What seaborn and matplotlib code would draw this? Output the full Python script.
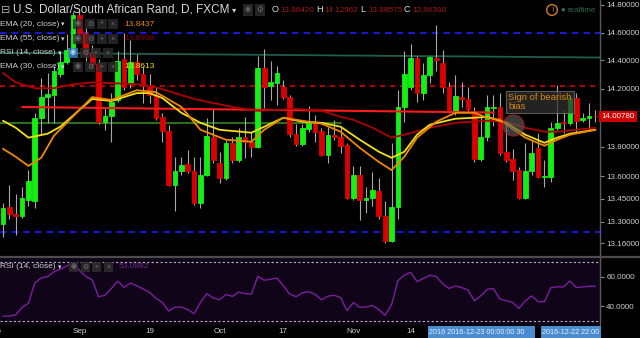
import matplotlib
matplotlib.use('Agg')
import matplotlib.pyplot as plt
import matplotlib.ticker as mticker
from matplotlib.patches import Rectangle
from matplotlib.lines import Line2D
import seaborn as sns
import pandas as pd
import numpy as np

# ---------------- data (USD/ZAR daily, 2016-08-16 .. 2016-12-23) ----------------
opens = [13.285,13.396,13.348,13.334,13.444,13.437,13.999,14.142,14.156,14.307,
 14.389,14.464,14.726,14.596,14.444,14.375,13.971,14.012,14.122,14.410,
 14.238,14.389,14.307,14.218,14.156,14.005,13.910,13.540,13.636,13.684,
 13.636,13.423,13.608,13.868,13.690,13.588,13.827,13.711,13.868,13.834,
 13.800,14.348,14.218,14.238,14.211,14.142,13.889,13.821,13.923,13.958,
 13.910,13.745,13.882,13.868,13.814,13.458,13.608,13.444,13.458,13.499,
 13.334,13.173,13.396,14.074,14.211,14.416,14.170,14.300,14.416,14.382,
 14.211,14.047,14.142,14.129,14.033,13.718,13.868,14.067,14.074,13.766,
 13.718,13.642,13.458,13.636,13.793,13.595,13.595,13.930,13.971,13.964,
 14.136,13.985,13.999,14.012]
highs = [13.423,13.540,13.485,13.526,13.642,14.033,14.273,14.314,14.362,14.464,
 14.589,14.749,14.763,14.631,14.510,14.410,14.067,14.170,14.464,14.596,
 14.546,14.444,14.362,14.307,14.211,14.033,13.951,13.732,13.732,13.779,
 13.732,13.732,13.999,14.067,13.766,13.848,13.868,13.930,14.005,13.903,
 14.430,14.485,14.396,14.362,14.259,14.156,13.958,13.958,14.081,14.019,
 13.930,13.937,13.985,13.937,13.827,13.670,13.670,13.526,13.629,13.588,
 13.437,13.827,14.190,14.464,14.516,14.430,14.382,14.430,14.653,14.478,
 14.245,14.300,14.245,14.211,14.074,14.019,14.156,14.156,14.170,13.971,
 13.786,13.663,13.827,13.848,13.896,13.711,13.971,14.225,14.053,14.149,
 14.170,14.033,14.101,14.053]
lows = [13.200,13.314,13.213,13.321,13.403,13.389,13.882,13.964,13.964,14.286,
 14.375,14.430,14.581,14.396,14.355,13.958,13.916,13.834,14.108,14.190,
 14.204,14.259,14.101,14.101,13.985,13.834,13.533,13.369,13.608,13.622,
 13.410,13.389,13.601,13.690,13.553,13.574,13.690,13.697,13.725,13.732,
 13.793,14.067,14.122,14.088,14.129,13.868,13.807,13.807,13.903,13.834,
 13.738,13.690,13.848,13.759,13.451,13.444,13.310,13.355,13.403,13.314,
 13.160,13.166,13.314,13.971,14.190,14.108,14.122,14.238,14.327,14.170,
 14.033,14.019,14.074,14.047,13.697,13.704,13.841,13.944,13.745,13.697,
 13.574,13.451,13.451,13.608,13.588,13.526,13.560,13.916,13.896,13.951,
 13.903,13.971,13.916,13.971]
closes = [13.389,13.348,13.334,13.458,13.567,13.999,14.142,14.163,14.327,14.389,
 14.478,14.726,14.596,14.444,14.375,13.971,14.012,14.108,14.396,14.211,
 14.389,14.307,14.218,14.156,13.999,13.910,13.540,13.636,13.677,13.636,
 13.423,13.608,13.875,13.711,13.588,13.827,13.711,13.868,13.834,13.800,
 14.348,14.211,14.245,14.314,14.142,13.889,13.821,13.930,13.964,13.903,
 13.745,13.882,13.868,13.807,13.458,13.608,13.444,13.458,13.512,13.334,
 13.173,13.396,14.074,14.307,14.416,14.170,14.300,14.423,14.403,14.211,
 14.047,14.149,14.129,14.060,13.718,13.868,14.074,14.074,13.759,13.711,
 13.636,13.458,13.636,13.759,13.595,13.601,13.930,13.964,13.964,14.136,
 13.978,13.999,14.012,14.008]

# EMA readings (candle index, value)
ema20_idx = [0,2,4,6,8,12,14,17,21,24,28,31,35,39,41,44,47,50,53,56,59,61,63,65,68,71,74,76,78,79,82,85,87,89,93]
ema20 = [13.786,13.732,13.670,13.725,13.875,14.053,14.142,14.122,14.190,14.177,14.074,13.916,13.848,13.834,13.916,13.999,13.978,13.958,13.903,13.793,13.697,13.642,13.732,13.862,13.971,14.033,14.033,13.999,13.985,13.951,13.862,13.807,13.848,13.882,13.916]
ema30_idx = [0,2,4,7,9,12,14,17,21,23,25,28,31,34,39,41,44,47,50,53,56,59,61,63,65,67,71,74,76,79,82,85,87,89,93]
ema30 = [13.978,13.930,13.862,13.889,13.937,14.053,14.129,14.115,14.170,14.170,14.136,14.033,13.964,13.916,13.896,13.937,13.999,13.971,13.964,13.937,13.848,13.766,13.725,13.766,13.882,13.951,13.992,13.999,14.005,13.964,13.882,13.827,13.862,13.889,13.916]
ema55_idx = [0,2,5,8,11,14,18,21,24,27,30,33,36,40,43,46,50,53,55,58,61,63,67,71,76,79,82,85,87,90,93]
ema55 = [14.311,14.245,14.204,14.204,14.232,14.245,14.238,14.232,14.211,14.170,14.129,14.101,14.074,14.047,14.053,14.060,14.047,14.005,13.985,13.930,13.862,13.882,13.930,13.964,13.978,13.971,13.930,13.903,13.903,13.916,13.930]

rsi = [33,33,34,39,42,56,59.3,60.3,63.5,65.5,
 67.5,70,64.5,60.5,58,46.4,47.3,52,57.2,52.8,
 55.8,54,51.7,49.5,45.3,42.5,36.5,39.2,39.3,37.5,
 34.7,42.5,48.5,45.5,44.3,48,46.6,49.6,48.6,48.2,
 60.5,57.8,58.4,59.3,54,48.2,46.4,49.1,49.8,48,
 44.3,46.8,47.4,45.8,36.8,42.3,39.1,39.3,40.3,37.5,
 33.5,41,57.5,61.2,63.2,56.8,59,61.1,60.3,55.5,
 52.1,53.8,52.7,51,43.6,47,51.5,52,44.8,43.6,
 42.5,38.4,43.5,47,43,43,52.6,53.2,53.2,57.3,
 52.7,53.2,53.6,53.6]

# horizontal levels / drawn lines
blue_levels = [14.600, 13.231]
red_dashed_level = 14.223
teal_line = ([-0.5, 93.7], [14.455, 14.421])
red_line = ([3, 77], [14.073, 14.035])
green_line = ([-0.5, 53], [13.964, 13.964])
last_price = 14.0078
circle_pt = (80, 13.951)

price_ticks = [14.8, 14.6, 14.4, 14.2, 13.8, 13.6, 13.45, 13.3, 13.16]
rsi_ticks = [60, 40]
rsi_levels = [70, 30]
date_pos = [-1, 12, 23, 34, 44, 55, 64]
date_labels = ['15', 'Sep', '19', 'Oct', '17', 'Nov', '14']

# ---------------- figure ----------------
sns.set_theme(style='dark')
plt.rcParams['font.family'] = ['Liberation Sans', 'DejaVu Sans']

W, H = 640, 338
fig = plt.figure(figsize=(6.4, 3.38), dpi=100, facecolor='black')

def fx(x):
    return x / W

def fy(y):
    return 1 - y / H

ax = fig.add_axes([0, fy(256), fx(600), 256 / H])
rax = fig.add_axes([0, fy(325), fx(600), (325 - 258) / H])

for a, bg in ((ax, 'black'), (rax, '#0f0418')):
    a.set_facecolor(bg)
    a.grid(False)
    for s in ('top', 'left', 'bottom'):
        a.spines[s].set_visible(False)
    a.spines['right'].set_color('#5a5a5a')
    a.spines['right'].set_linewidth(1.0)

o = np.array(opens); c = np.array(closes)
idx = np.arange(len(c))
cols = np.where(c >= o, '#14f014', '#dc0000')

ax.set_yscale('log')
ax.set_xlim(-0.47, 93.72)
ax.set_ylim(13.076, 14.836)

# level lines
for lv in blue_levels:
    ax.axhline(lv, color='#1c1cff', lw=1.2, dashes=(4, 3), zorder=1)
ax.axhline(red_dashed_level, color='#d80000', lw=1.2, dashes=(3, 3), zorder=1)
ax.plot(*teal_line, color='#1d5e50', lw=1.3, zorder=1)
ax.plot(*green_line, color='#2f7d1f', lw=1.3, zorder=1)

# candles
ax.vlines(idx, lows, highs, color='#a8a8a8', lw=0.8, zorder=2)
ax.bar(idx, np.abs(c - o), bottom=np.minimum(o, c), width=0.74,
       color=cols, edgecolor=cols, linewidth=0.6, zorder=3)

ax.plot(*red_line, color='#ff1a1a', lw=1.5, zorder=4)

# EMAs
sns.lineplot(x=ema55_idx, y=ema55, ax=ax, color='#b00000', lw=1.3, zorder=5)
sns.lineplot(x=ema30_idx, y=ema30, ax=ax, color='#f0e010', lw=1.3, zorder=5)
sns.lineplot(x=ema20_idx, y=ema20, ax=ax, color='#f08800', lw=1.3, zorder=5)

# circle annotation + text box
ax.scatter([circle_pt[0]], [circle_pt[1]], s=230, facecolor='#5a5a5a', alpha=0.65,
           edgecolor='#b02020', linewidth=1.0, zorder=6)
ax.text(79.3, 14.17, 'Sign of bearish\nbias', fontsize=6.8, color='#d8870c',
        va='top', ha='left', linespacing=1.0, zorder=7,
        bbox=dict(boxstyle='square,pad=0.25', facecolor='#303030', alpha=0.75,
                  edgecolor='#707070', linewidth=0.8))

ax.set_xlabel(''); ax.set_ylabel('')
ax.set_xticks([])
ax.yaxis.tick_right()
ax.yaxis.set_major_locator(mticker.FixedLocator(price_ticks))
ax.yaxis.set_minor_locator(mticker.NullLocator())
ax.yaxis.set_major_formatter(mticker.FuncFormatter(lambda v, p: f'{v:.5f}'))
ax.tick_params(axis='y', which='both', colors='#8a8a8a', labelcolor='#cfcfcf',
               labelsize=5.8, length=3, width=0.8, pad=1.5, direction='out')

# last price label
ax.text(1.002, last_price, f'{last_price:.5f}', transform=ax.get_yaxis_transform(),
        fontsize=5.8, color='white', va='center', ha='left', clip_on=False, zorder=8,
        bbox=dict(boxstyle='square,pad=0.3', facecolor='#d00000', edgecolor='none'))

# RSI pane
rax.set_xlim(-0.47, 93.72)
rax.set_ylim(26.9, 73.1)
for lv in rsi_levels:
    rax.axhline(lv, color='#b8b8b8', lw=0.8, dashes=(2, 2))
sns.lineplot(x=idx, y=rsi, ax=rax, color='#7c1f9e', lw=1.0)
rax.set_xlabel(''); rax.set_ylabel('')
rax.yaxis.tick_right()
rax.set_yticks(rsi_ticks)
rax.set_yticklabels([f'{t:.4f}' for t in rsi_ticks])
rax.tick_params(axis='y', colors='#8a8a8a', labelcolor='#cfcfcf', labelsize=5.8,
                length=3, width=0.8, pad=1.5)
rax.set_xticks([p for p in date_pos if p >= -0.47])
rax.set_xticklabels([l for p, l in zip(date_pos, date_labels) if p >= -0.47])
rax.tick_params(axis='x', colors='#8a8a8a', labelcolor='#cfcfcf', labelsize=5.8,
                length=0, pad=2.2)
for p, l in zip(date_pos, date_labels):
    if p < -0.47:
        rax.text(p, -0.05, l, transform=rax.get_xaxis_transform(), fontsize=5.8,
                 color='#cfcfcf', ha='center', va='top', clip_on=False)

# separator
fig.add_artist(Line2D([0, 1], [fy(256.5)] * 2, color='#4c4c4c', lw=1.6))

# ---------------- overlay texts ----------------
def ftext(x, y, s, **kw):
    kw.setdefault('va', 'center')
    kw.setdefault('ha', 'left')
    fig.text(fx(x), fy(y), s, **kw)

def fbox(x, y, w, h, color, alpha=0.85):
    fig.add_artist(Rectangle((fx(x), fy(y + h)), w / W, h / H, transform=fig.transFigure,
                             facecolor=color, edgecolor='none', alpha=alpha))

ftext(0.5, 10, '⊟', fontsize=8, color='#a8a8a8')
ftext(13, 10, 'U.S. Dollar/South African Rand, D, FXCM', fontsize=8.5, color='#d8d8d8')
ftext(232, 10.5, '▾', fontsize=6, color='#cfcfcf')
fbox(243, 4.5, 10, 11, '#2c2c2c')
fbox(255, 4.5, 10, 11, '#2c2c2c')
ftext(248, 10, '◉', fontsize=5, color='#6a6a6a', ha='center')
ftext(260, 10, '⚙', fontsize=5.5, color='#6a6a6a', ha='center')
for lx, lab, vx, val in ((272, 'O', 280, '13.96420'), (316, 'H', 324, '14.12962'),
                         (360, 'L', 368, '13.88575'), (404, 'C', 412, '13.96380')):
    ftext(lx, 10, lab, fontsize=6.6, color='#dcdcdc')
    ftext(vx, 10, val, fontsize=5.9, color='#a81414')

fig.text(fx(552), fy(10), '!', fontsize=6, color='#d07a30', ha='center', va='center',
         bbox=dict(boxstyle='circle,pad=0.22', facecolor='none', edgecolor='#d07a30', lw=1.0))
ftext(563, 10, '●', fontsize=5.5, color='#2e7d57', ha='center')
ftext(568, 10, 'realtime', fontsize=5.8, color='#2e6e50')

rows = [(24, 'EMA (20, close)', '13.8437', '#e88400', False),
        (39, 'EMA (55, close)', '13.8999', '#8a0000', False),
        (53, 'RSI (14, close)', '', '', True),
        (67, 'EMA (30, close)', '13.8613', '#e8e000', False)]
glyphs = ['◉', '⚙', '+', '×']
for y, lab, val, vc, is_rsi in rows:
    ftext(0, y, lab, fontsize=6, color='#cfcfcf')
    ftext(61 if not is_rsi else 58, y + 0.5, '▾', fontsize=5, color='#cfcfcf')
    xs = [68, 80, 91, 103] if is_rsi else [73, 85, 97, 108]
    for k, bx in enumerate(xs):
        colr = '#3a7fc4' if (is_rsi and k == 0) else '#2c2c2c'
        fbox(bx, y - 5, 10, 10, colr, alpha=0.8)
        ftext(bx + 5, y, glyphs[k], fontsize=5,
              color='#707070' if not (is_rsi and k == 0) else '#bcd8f0', ha='center')
    if val:
        ftext(124, y, val, fontsize=6, color=vc)

# RSI legend
ftext(0, 267, 'RSI (14, close)', fontsize=6, color='#cfcfcf')
ftext(58, 267.5, '▾', fontsize=5, color='#cfcfcf')
for k, bx in enumerate([69, 81, 92, 104]):
    fbox(bx, 262, 9, 10, '#2c2c2c', alpha=0.9)
    ftext(bx + 4.5, 267, glyphs[k], fontsize=5, color='#707070', ha='center')
ftext(119, 267, '53.0882', fontsize=6, color='#6e2a8e')

# crosshair date labels
fbox(428, 326, 107, 12, '#4a8cd0', alpha=1.0)
ftext(429, 332, '2016 2016-12-23 00:00:00 30', fontsize=5.2, color='#e8f0ff')
fbox(541, 326, 60, 12, '#4a8cd0', alpha=1.0)
ftext(542, 332, '2016-12-22 22:00', fontsize=5.2, color='#e8f0ff')

fig.savefig('out.png', dpi=100, facecolor='black')
